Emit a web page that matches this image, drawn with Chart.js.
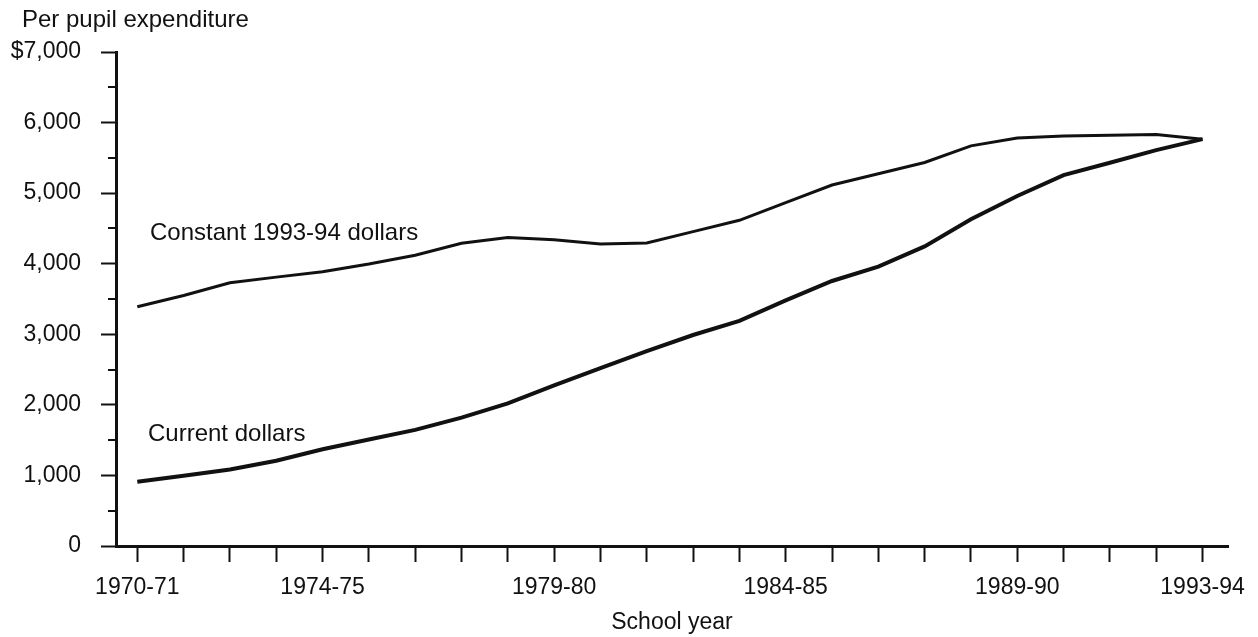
<!DOCTYPE html>
<html>
<head>
<meta charset="utf-8">
<script src="https://cdn.jsdelivr.net/npm/chart.js@4.4.0/dist/chart.umd.min.js"></script>
<style>
  html, body { margin: 0; padding: 0; background: #fff; }
  #wrap { width: 1258px; height: 637px; position: relative; }
</style>
</head>
<body>
<div id="wrap"><canvas id="expenditureChart"></canvas></div>
<script>
// School years on the x axis
const schoolYears = [
    '1970-71', '1971-72', '1972-73', '1973-74', '1974-75', '1975-76',
    '1976-77', '1977-78', '1978-79', '1979-80', '1980-81', '1981-82',
    '1982-83', '1983-84', '1984-85', '1985-86', '1986-87', '1987-88',
    '1988-89', '1989-90', '1990-91', '1991-92', '1992-93', '1993-94'
];
const labeledYears = ['1970-71', '1974-75', '1979-80', '1984-85', '1989-90', '1993-94'];

// Per pupil expenditure
const constantDollars = [
    3390, 3550, 3730, 3810, 3885, 3995, 4120, 4290, 4370, 4340, 4280, 4295,
    4455, 4615, 4865, 5115, 5275, 5435, 5670, 5780, 5810, 5820, 5830, 5765
];
const currentDollars = [
    911, 995, 1085, 1208, 1370, 1508, 1645, 1820, 2020, 2275, 2520, 2760,
    2990, 3190, 3480, 3755, 3960, 4245, 4630, 4960, 5255, 5430, 5610, 5765
];

const FONT = '"Liberation Sans", Arial, Helvetica, sans-serif';
const INK = '#111';

// Short minor ticks on the y axis plus the text labels
const annotations = {
    id: 'annotations',
    afterDraw(chart) {
        const ctx = chart.ctx;
        const y = chart.scales.y;
        ctx.save();
        ctx.strokeStyle = INK;
        ctx.lineWidth = 2;
        for (let v = 500; v < 7000; v += 1000) {
            const py = Math.round(y.getPixelForValue(v));
            ctx.beginPath();
            ctx.moveTo(y.right - 8, py);
            ctx.lineTo(y.right, py);
            ctx.stroke();
        }
        ctx.fillStyle = INK;
        ctx.font = '24px ' + FONT;
        ctx.textAlign = 'left';
        ctx.textBaseline = 'alphabetic';
        ctx.fillText('Per pupil expenditure', 22, 27);
        ctx.fillText('Constant 1993-94 dollars', 150, 240);
        ctx.fillText('Current dollars', 148, 441);
        ctx.restore();
    }
};

const ctx = document.getElementById('expenditureChart').getContext('2d');
new Chart(ctx, {
    type: 'line',
    data: {
        datasets: [{
            label: 'Constant 1993-94 dollars',
            data: constantDollars.map((v, i) => ({ x: i, y: v })),
            borderColor: INK,
            borderWidth: 3,
            pointRadius: 0,
            tension: 0
        }, {
            label: 'Current dollars',
            data: currentDollars.map((v, i) => ({ x: i, y: v })),
            borderColor: INK,
            borderWidth: 4,
            pointRadius: 0,
            tension: 0
        }]
    },
    options: {
        responsive: true,
        maintainAspectRatio: false,
        animation: false,
        layout: { padding: { top: 52, right: 30, left: 0, bottom: 0 } },
        plugins: {
            legend: { display: false },
            tooltip: { enabled: false }
        },
        scales: {
            x: {
                type: 'linear',
                min: -0.46,
                max: 23.55,
                afterFit(scale) { scale.height = 91; },
                border: { display: true, color: INK, width: 3 },
                grid: { drawOnChartArea: false, tickLength: 16, tickWidth: 2, tickColor: INK },
                ticks: {
                    stepSize: 1,
                    autoSkip: false,
                    maxRotation: 0,
                    includeBounds: false,
                    padding: 12,
                    color: INK,
                    font: { family: FONT, size: 23 },
                    callback: v => labeledYears.includes(schoolYears[v]) ? schoolYears[v] : ''
                },
                title: {
                    display: true,
                    text: 'School year',
                    color: INK,
                    font: { family: FONT, size: 23 },
                    padding: { top: 0, bottom: 1 }
                }
            },
            y: {
                min: 0,
                max: 7000,
                afterFit(scale) { scale.width = 116; },
                border: { display: true, color: INK, width: 3 },
                grid: {
                    drawOnChartArea: false,
                    tickLength: 15,
                    tickWidth: 2,
                    tickColor: c => c.tick.value % 1000 === 0 ? INK : 'rgba(0,0,0,0)'
                },
                ticks: {
                    stepSize: 500,
                    padding: 20,
                    color: INK,
                    font: { family: FONT, size: 23 },
                    callback: v => v % 1000 ? '' : (v === 7000 ? '$7,000' : v.toLocaleString('en-US'))
                }
            }
        }
    },
    plugins: [annotations]
});
</script>
</body>
</html>
